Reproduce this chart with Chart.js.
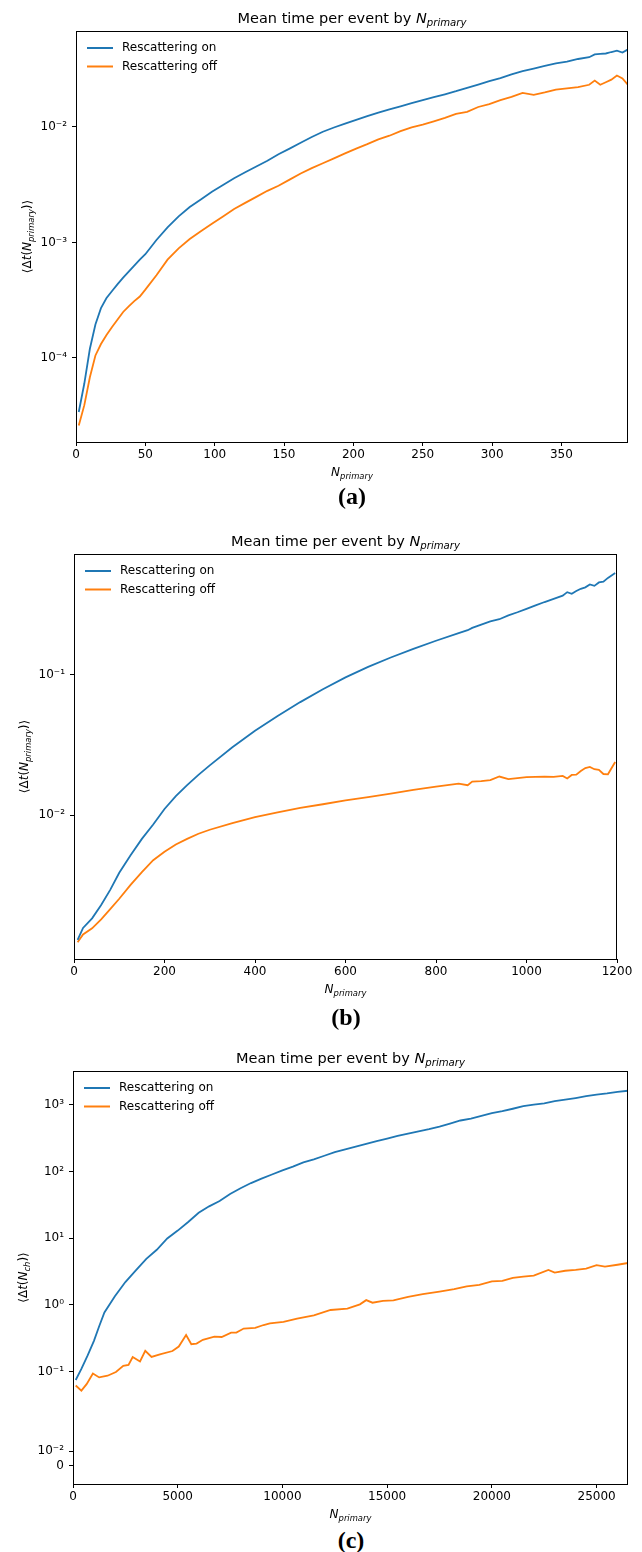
<!DOCTYPE html>
<html>
<head>
<meta charset="utf-8">
<script src="https://cdn.jsdelivr.net/npm/chart.js@4.4.1/dist/chart.umd.min.js"></script>
<style>
  body { margin: 0; background: #fff; width: 642px; height: 1552px; position: relative; overflow: hidden; }
  canvas { position: absolute; left: 0; }
  .caption { position: absolute; transform: translateX(-50%); font: bold 24px/24px "Liberation Serif", "Times New Roman", serif; color: #000; }
</style>
</head>
<body>
<canvas id="chartA" width="642" height="485" style="top:0px"></canvas>
<div class="caption" style="top:484px;left:352px">(a)</div>
<canvas id="chartB" width="642" height="485" style="top:520px"></canvas>
<div class="caption" style="top:1005px;left:346px">(b)</div>
<canvas id="chartC" width="642" height="490" style="top:1035px"></canvas>
<div class="caption" style="top:1528px;left:351px">(c)</div>

<script>
const seriesNames = ['Rescattering on', 'Rescattering off'];

// (a) small events
const nA = [2, 6, 10, 14, 18, 22, 26, 30, 34, 38, 42, 46, 50,
  58, 66, 74, 82, 90, 98, 106, 114, 122, 130, 138, 146, 154, 162, 170, 178, 186, 194,
  202, 210, 218, 226, 234, 242, 250, 258, 266, 274, 282, 290, 298, 306, 314, 322, 330,
  338, 346, 354, 362, 370, 374, 378, 382, 386, 390, 394, 398];
const onA = [3.4e-5, 6.0e-5, 1.2e-4, 1.95e-4, 2.7e-4, 3.3e-4, 3.8e-4, 4.35e-4, 4.95e-4, 5.6e-4, 6.3e-4, 7.1e-4, 7.9e-4,
  1.05e-3, 1.35e-3, 1.68e-3, 2.03e-3, 2.36e-3, 2.75e-3, 3.15e-3, 3.6e-3, 4.05e-3, 4.55e-3, 5.1e-3, 5.8e-3, 6.5e-3, 7.3e-3, 8.2e-3, 9.1e-3, 9.9e-3, 0.0107,
  0.0115, 0.0124, 0.0133, 0.0142, 0.0151, 0.0161, 0.0171, 0.0181, 0.0192, 0.0204, 0.0218, 0.0233, 0.0249, 0.0265, 0.0285, 0.0304, 0.0320,
  0.0338, 0.0355, 0.0368, 0.0388, 0.0402, 0.0425, 0.0430, 0.0433, 0.0446, 0.0458, 0.0441, 0.0470];
const offA = [2.6e-5, 3.9e-5, 6.8e-5, 1.05e-4, 1.32e-4, 1.58e-4, 1.85e-4, 2.15e-4, 2.5e-4, 2.8e-4, 3.1e-4, 3.4e-4, 3.9e-4,
  5.2e-4, 7.1e-4, 8.9e-4, 1.07e-3, 1.25e-3, 1.45e-3, 1.68e-3, 1.95e-3, 2.2e-3, 2.48e-3, 2.8e-3, 3.1e-3, 3.5e-3, 3.95e-3, 4.4e-3, 4.85e-3, 5.35e-3, 5.9e-3,
  6.5e-3, 7.1e-3, 7.8e-3, 8.4e-3, 9.2e-3, 9.9e-3, 0.0105, 0.0112, 0.0120, 0.0130, 0.0135, 0.0149, 0.0158, 0.0171, 0.0182, 0.0197, 0.0190,
  0.0199, 0.0211, 0.0216, 0.0221, 0.0232, 0.0252, 0.0232, 0.0244, 0.0257, 0.0279, 0.0263, 0.0231];

// (b) medium events
const nB = [8, 20, 40, 60, 80, 100, 125, 150, 175, 200, 225, 250, 275, 300,
  350, 400, 450, 500, 550, 600, 650, 700, 750, 800, 850, 870, 880,
  900, 920, 940, 960, 980, 1000, 1020, 1040, 1060, 1080,
  1090, 1100, 1110, 1120, 1130, 1140, 1150, 1160, 1170, 1180, 1196];
const onB = [1.3e-3, 1.58e-3, 1.85e-3, 2.3e-3, 2.95e-3, 3.9e-3, 5.2e-3, 6.8e-3, 8.6e-3, 0.0111, 0.0137, 0.0164, 0.0194, 0.0227,
  0.0305, 0.040, 0.051, 0.064, 0.079, 0.096, 0.114, 0.133, 0.153, 0.175, 0.198, 0.208, 0.216,
  0.228, 0.240, 0.249, 0.265, 0.279, 0.295, 0.312, 0.330, 0.347, 0.366,
  0.388, 0.378, 0.395, 0.41, 0.42, 0.44, 0.43, 0.455, 0.46, 0.49, 0.53];
const offB = [1.25e-3, 1.42e-3, 1.57e-3, 1.82e-3, 2.15e-3, 2.55e-3, 3.2e-3, 3.95e-3, 4.8e-3, 5.5e-3, 6.2e-3, 6.8e-3, 7.4e-3, 7.9e-3,
  8.8e-3, 9.7e-3, 0.0105, 0.0113, 0.0120, 0.0128, 0.0135, 0.0143, 0.0152, 0.0160, 0.0168, 0.0164, 0.0174,
  0.0175, 0.0178, 0.0189, 0.0181, 0.0184, 0.0187, 0.0188, 0.0189, 0.0188, 0.0191,
  0.0183, 0.0194, 0.0195, 0.0207, 0.0217, 0.0221, 0.0213, 0.0211, 0.0197, 0.0196, 0.0240];

// (c) large events
const nOnC = [130, 400, 700, 1000, 1250, 1500, 2000, 2500, 3000, 3500, 4000, 4500, 5000, 5500, 6000, 6500,
  7000, 7500, 8000, 8500, 9000, 9500, 10000, 10500, 11000, 11500, 12000, 12500, 13000, 13500, 14000,
  14500, 15000, 15500, 16000, 16500, 17000, 17500, 18000, 18500, 19000, 19500, 20000, 20500, 21000,
  21500, 22000, 22500, 23000, 23500, 24000, 24500, 25000, 25500, 26000, 26500];
const onC = [0.075, 0.11, 0.175, 0.29, 0.48, 0.77, 1.35, 2.2, 3.3, 4.9, 6.7, 9.9, 13, 17.5, 24, 30,
  36, 46, 56, 67, 78, 90, 104, 118, 137, 152, 172, 195, 215, 235, 258,
  285, 310, 340, 370, 400, 430, 470, 520, 580, 620, 680, 750, 800, 870,
  950, 1000, 1050, 1130, 1190, 1260, 1340, 1420, 1480, 1560, 1620];
const nOffC = [130, 400, 650, 950, 1250, 1650, 2050, 2400, 2650, 2850, 3200, 3450, 3750, 4150, 4750,
  5050, 5400, 5650, 5900, 6200, 6750, 7100, 7550, 7800, 8150, 8700, 9100, 9400, 10050, 10700,
  11500, 12300, 13100, 13700, 14000, 14300, 14800, 15300, 16000, 16700, 17500, 18200, 18800, 19400,
  20000, 20500, 21000, 21500, 22000, 22700, 23000, 23500, 24000, 24500, 25000, 25400, 26000, 26500];
const offC = [0.062, 0.052, 0.065, 0.094, 0.082, 0.087, 0.099, 0.122, 0.126, 0.166, 0.142, 0.205, 0.166, 0.182, 0.204,
  0.238, 0.355, 0.258, 0.264, 0.30, 0.336, 0.331, 0.385, 0.385, 0.443, 0.452, 0.50, 0.53, 0.556, 0.625,
  0.70, 0.84, 0.88, 1.02, 1.18, 1.08, 1.15, 1.17, 1.32, 1.45, 1.58, 1.72, 1.9, 2.0,
  2.25, 2.3, 2.55, 2.65, 2.75, 3.35, 3.05, 3.25, 3.35, 3.5, 3.95, 3.75, 4.0, 4.25];

const xTicksA = [0, 50, 100, 150, 200, 250, 300, 350];
const yTicksA = [1e-4, 1e-3, 1e-2];
const xTicksB = [0, 200, 400, 600, 800, 1000, 1200];
const yTicksB = [1e-2, 1e-1];
const xTicksC = [0, 5000, 10000, 15000, 20000, 25000];
const yTicksC = [0, 1e-2, 1e-1, 1, 10, 100, 1000];

const BLUE = '#1f77b4';
const ORANGE = '#ff7f0e';
const INK = '#000';
const FONT = '"DejaVu Sans", sans-serif';

Chart.defaults.font.family = FONT;
Chart.defaults.font.size = 12;
Chart.defaults.color = INK;

// symmetric log axis: linear inside +-linthresh, log10 outside
class SymlogScale extends Chart.Scale {
  static id = 'symlog';
  static defaults = { linthresh: 1, linscale: 1 };

  determineDataLimits() {
    this.min = this.options.min;
    this.max = this.options.max;
  }
  buildTicks() {
    return (this.options.tickValues || []).map(value => ({ value }));
  }
  transform(v) {
    const c = this.options.linthresh;
    const a = this.options.linscale / (1 - 1 / 10);
    const m = Math.abs(v);
    const t = m <= c ? a * m / c : a + Math.log10(m / c);
    return v < 0 ? -t : t;
  }
  inverse(t) {
    const c = this.options.linthresh;
    const a = this.options.linscale / (1 - 1 / 10);
    const m = Math.abs(t);
    const v = m <= a ? m * c / a : c * Math.pow(10, m - a);
    return t < 0 ? -v : v;
  }
  configure() {
    super.configure();
    this._tStart = this.transform(this.min);
    this._tRange = this.transform(this.max) - this._tStart;
  }
  getPixelForValue(value) {
    return this.getPixelForDecimal((this.transform(value) - this._tStart) / this._tRange);
  }
  getValueForPixel(pixel) {
    return this.inverse(this._tStart + this.getDecimalForPixel(pixel) * this._tRange);
  }
  getPixelForTick(index) {
    return this.getPixelForValue(this.ticks[index].value);
  }
  getLabelForValue(value) {
    return String(value);
  }
}
Chart.register(SymlogScale);

const SUP = { '-': '\u207b', '0': '\u2070', '1': '\u00b9', '2': '\u00b2', '3': '\u00b3', '4': '\u2074', '5': '\u2075' };
function powLabel(v) {
  if (v === 0) return '0';
  const e = String(Math.round(Math.log10(v)));
  return '10' + e.split('').map(ch => SUP[ch]).join('');
}

// text runs: [string, 'r' | 'i' | 's'] -> roman, italic, italic subscript
function drawRuns(ctx, runs, x, y, size, center) {
  const fontOf = k => (k === 'r' ? '' : 'italic ') + (k === 's' ? size * 0.7 : size) + 'px ' + FONT;
  let w = 0;
  runs.forEach(([t, k]) => { ctx.font = fontOf(k); w += ctx.measureText(t).width; });
  let cx = center ? x - w / 2 : x;
  ctx.textAlign = 'left';
  ctx.textBaseline = 'alphabetic';
  runs.forEach(([t, k]) => {
    ctx.font = fontOf(k);
    ctx.fillText(t, cx, k === 's' ? y + size * 0.22 : y);
    cx += ctx.measureText(t).width;
  });
}

const titleRuns = [['Mean time per event by ', 'r'], ['N', 'i'], ['primary', 's']];
const xLabelRuns = [['N', 'i'], ['primary', 's']];
const yLabelPrimary = [['\u27e8\u0394', 'r'], ['t', 'i'], ['(', 'r'], ['N', 'i'], ['primary', 's'], [')\u27e9', 'r']];
const yLabelCh = [['\u27e8\u0394', 'r'], ['t', 'i'], ['(', 'r'], ['N', 'i'], ['ch', 's'], [')\u27e9', 'r']];

// axes box, titles, labels and legend
const framePlugin = {
  id: 'frame',
  afterDatasetsDraw(chart) {
    const { ctx, chartArea: a } = chart;
    ctx.save();
    ctx.strokeStyle = INK;
    ctx.lineWidth = 1;
    ctx.strokeRect(a.left + 0.5, a.top + 0.5, a.right - a.left - 1, a.bottom - a.top);
    ctx.restore();
  },
  afterDraw(chart, args, opts) {
    const { ctx, chartArea: a } = chart;
    const cx = (a.left + a.right) / 2;
    ctx.save();
    ctx.fillStyle = INK;
    drawRuns(ctx, titleRuns, cx, a.top - 8, 14.5, true);
    drawRuns(ctx, xLabelRuns, cx, a.bottom + 34, 12, true);

    ctx.translate(opts.yLabelX, (a.top + a.bottom) / 2);
    ctx.rotate(-Math.PI / 2);
    drawRuns(ctx, opts.yLabel, 0, 4, 12, true);
    ctx.restore();

    ctx.save();
    chart.data.datasets.forEach((ds, i) => {
      const y = a.top + 17 + i * 18.5;
      ctx.strokeStyle = ds.borderColor;
      ctx.lineWidth = 2;
      ctx.beginPath();
      ctx.moveTo(a.left + 11, y);
      ctx.lineTo(a.left + 37, y);
      ctx.stroke();
      ctx.fillStyle = INK;
      ctx.font = '12px ' + FONT;
      ctx.textAlign = 'left';
      ctx.textBaseline = 'middle';
      ctx.fillText(ds.label, a.left + 46, y);
    });
    ctx.restore();
  }
};

function points(xs, ys) {
  return xs.map((x, i) => ({ x: x, y: ys[i] }));
}

function axisStyle() {
  return {
    grid: { drawOnChartArea: false, drawTicks: true, tickLength: 4, color: INK, lineWidth: 1 },
    border: { display: false }
  };
}

function makeChart(id, cfg) {
  const canvas = document.getElementById(id);
  const area = cfg.area;
  const xAxis = Object.assign(axisStyle(), {
    type: 'linear',
    min: cfg.xMin,
    max: cfg.xMax,
    ticks: { padding: 2, maxRotation: 0, callback: v => String(v) },
    afterBuildTicks: s => { s.ticks = cfg.xTicks.map(v => ({ value: v })); },
    afterFit: s => { s.height = canvas.height - area.bottom; }
  });
  const yAxis = Object.assign(axisStyle(), {
    type: cfg.yType,
    min: cfg.yMin,
    max: cfg.yMax,
    ticks: { padding: 5, callback: v => powLabel(v) },
    afterFit: s => { s.width = area.left; }
  });
  if (cfg.yType === 'symlog') {
    yAxis.linthresh = cfg.linthresh;
    yAxis.linscale = 1;
    yAxis.tickValues = cfg.yTicks;
  } else {
    yAxis.afterBuildTicks = s => { s.ticks = cfg.yTicks.map(v => ({ value: v })); };
  }

  return new Chart(canvas, {
    type: 'line',
    data: {
      datasets: [
        { label: seriesNames[0], data: points(cfg.nOn, cfg.on), borderColor: BLUE },
        { label: seriesNames[1], data: points(cfg.nOff, cfg.off), borderColor: ORANGE }
      ]
    },
    options: {
      responsive: false,
      animation: false,
      elements: {
        line: { borderWidth: 1.8, tension: 0, fill: false },
        point: { radius: 0, hoverRadius: 0 }
      },
      layout: {
        autoPadding: false,
        padding: { left: 0, top: area.top, right: canvas.width - area.right, bottom: 0 }
      },
      plugins: {
        legend: { display: false },
        tooltip: { enabled: false },
        frame: { yLabel: cfg.yLabel, yLabelX: cfg.yLabelX }
      },
      scales: { x: xAxis, y: yAxis }
    },
    plugins: [framePlugin]
  });
}

makeChart('chartA', {
  area: { left: 76, right: 628, top: 31, bottom: 442 },
  nOn: nA, on: onA, nOff: nA, off: offA,
  xMin: 0, xMax: 398, xTicks: xTicksA,
  yType: 'logarithmic', yMin: 1.87e-5, yMax: 0.0678, yTicks: yTicksA,
  yLabel: yLabelPrimary, yLabelX: 27
});

makeChart('chartB', {
  area: { left: 74, right: 617, top: 34, bottom: 439 },
  nOn: nB, on: onB, nOff: nB, off: offB,
  xMin: 0, xMax: 1200, xTicks: xTicksB,
  yType: 'logarithmic', yMin: 9.5e-4, yMax: 0.725, yTicks: yTicksB,
  yLabel: yLabelPrimary, yLabelX: 24
});

makeChart('chartC', {
  area: { left: 73, right: 628, top: 36, bottom: 449 },
  nOn: nOnC, on: onC, nOff: nOffC, off: offC,
  xMin: 0, xMax: 26500, xTicks: xTicksC,
  yType: 'symlog', linthresh: 0.05, yMin: -0.0122, yMax: 3200, yTicks: yTicksC,
  yLabel: yLabelCh, yLabelX: 23
});
</script>
</body>
</html>
